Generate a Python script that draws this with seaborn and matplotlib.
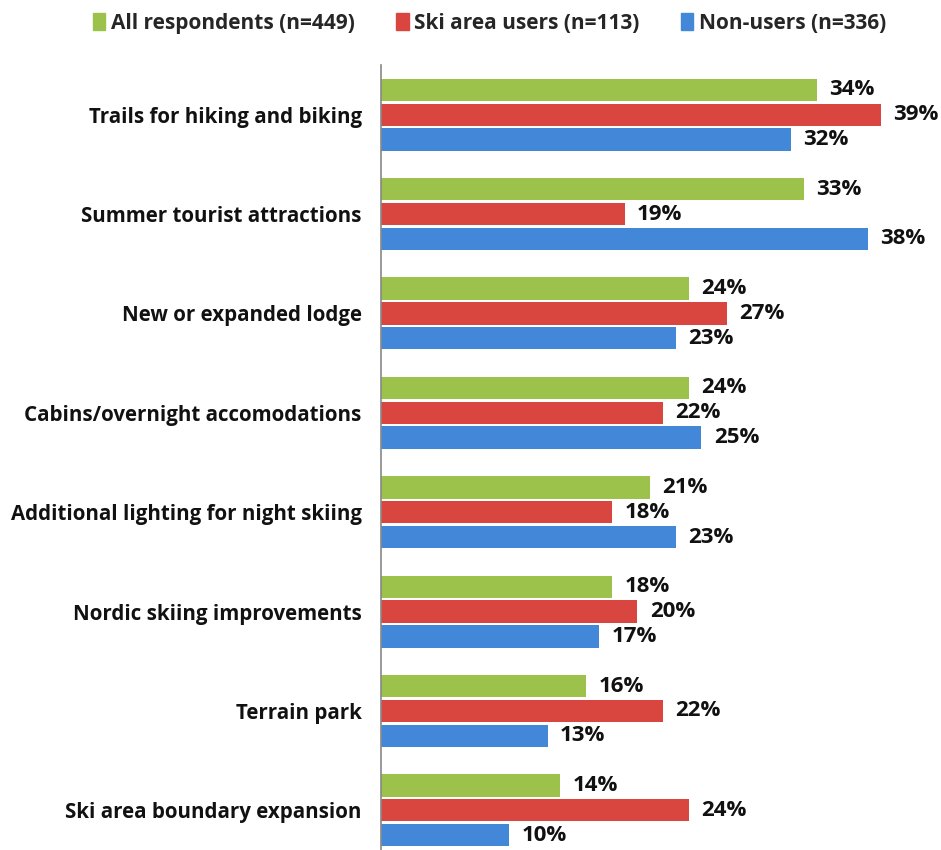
import numpy as np
import pandas as pd
import matplotlib
matplotlib.use('Agg')
import matplotlib.pyplot as plt
import seaborn as sns

# data
categories = ['Trails for hiking and biking', 'Summer tourist attractions',
              'New or expanded lodge', 'Cabins/overnight accomodations',
              'Additional lighting for night skiing', 'Nordic skiing improvements',
              'Terrain park', 'Ski area boundary expansion']
series = ['All respondents (n=449)', 'Ski area users (n=113)', 'Non-users (n=336)']
all_resp = [34, 33, 24, 24, 21, 18, 16, 14]
ski_users = [39, 19, 27, 22, 18, 20, 22, 24]
non_users = [32, 38, 23, 25, 23, 17, 13, 10]
colors = ['#9CC24C', '#D9453F', '#4388D8']

df = pd.DataFrame({
    'category': categories * 3,
    'group': sum([[s] * len(categories) for s in series], []),
    'value': all_resp + ski_users + non_users,
})

sns.set_theme(style='white')
plt.rcParams['font.family'] = ['Open Sans', 'DejaVu Sans']

fig = plt.figure(figsize=(9.41, 8.5), dpi=100)
ax = fig.add_axes([0.405, 0.0, 0.595, 0.9235])

sns.barplot(data=df, y='category', x='value', hue='group', order=categories,
            hue_order=series, palette=colors, saturation=1, orient='h',
            width=0.75, gap=0.1, edgecolor='none', ax=ax, legend=False)

for cont in ax.containers:
    ax.bar_label(cont, fmt='%d%%', padding=9, fontsize=16, fontweight='bold',
                 color='#111111')

ax.set_xlim(0, 43.7)
ax.set_ylim(7.4, -0.5)
ax.set_xlabel('')
ax.set_ylabel('')
ax.set_xticks([])
ax.tick_params(axis='y', length=0, pad=14)
for lab in ax.get_yticklabels():
    lab.set_fontsize(14.8)
    lab.set_fontweight('bold')
    lab.set_color('#111111')
for side in ['top', 'right', 'bottom']:
    ax.spines[side].set_visible(False)
ax.spines['left'].set_color('#888888')
ax.spines['left'].set_linewidth(1.2)

handles = [plt.Rectangle((0, 0), 1, 1, color=c) for c in colors]
fig.legend(handles, series, loc='upper center', bbox_to_anchor=(0.52, 1.007),
           ncol=3, frameon=False, handlelength=0.6, handleheight=0.9,
           handletextpad=0.25, columnspacing=2.0,
           prop={'size': 15, 'weight': 'bold'})

fig.savefig('out.png', dpi=100)
